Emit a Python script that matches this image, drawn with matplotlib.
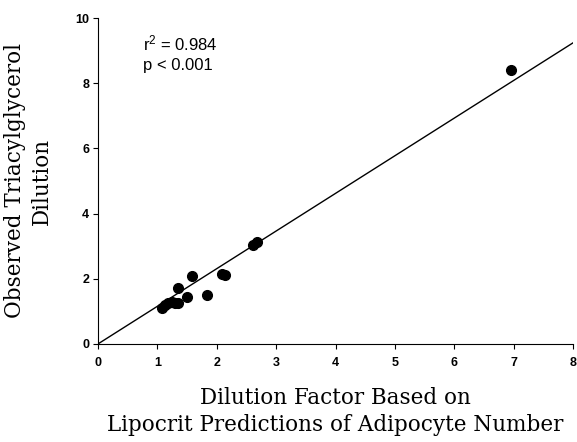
import matplotlib
matplotlib.use("Agg")
import matplotlib.pyplot as plt
import numpy as np

plt.rcParams["mathtext.fontset"] = "custom"
plt.rcParams["mathtext.rm"] = "Liberation Sans"
plt.rcParams["mathtext.it"] = "Liberation Sans"

# predicted dilution (lipocrit) vs observed triacylglycerol dilution
predicted = [1.07, 1.13, 1.18, 1.24, 1.30, 1.35, 1.34, 1.49, 1.58, 1.83, 2.08, 2.14, 2.61, 2.67, 6.95]
observed = [1.10, 1.20, 1.27, 1.30, 1.25, 1.27, 1.70, 1.44, 2.09, 1.49, 2.14, 2.10, 3.04, 3.14, 8.42]
fit_slope = 1.155
x_ticks = [0, 1, 2, 3, 4, 5, 6, 7, 8]
y_ticks = [0, 2, 4, 6, 8, 10]

fig = plt.figure(figsize=(5.77, 4.42), dpi=100)
ax = fig.add_axes([0.170, 0.222, 0.823, 0.737])

xs = np.array([0, 8])
ax.plot(xs, fit_slope * xs, color="black", lw=1.0)
ax.plot(predicted, observed, "o", color="black", markersize=7)

ax.set_xlim(0, 8)
ax.set_ylim(0, 10)
ax.set_xticks(x_ticks)
ax.set_yticks(y_ticks)
for lab in ax.get_xticklabels() + ax.get_yticklabels():
    lab.set_fontfamily("Liberation Sans")
    lab.set_fontweight("bold")
    lab.set_fontsize(9)
ax.tick_params(direction="out", length=3.5, width=0.8)
ax.tick_params(axis="x", pad=6)
ax.tick_params(axis="y", pad=3)
ax.spines["top"].set_visible(False)
ax.spines["right"].set_visible(False)

ax.set_xlabel("Dilution Factor Based on\nLipocrit Predictions of Adipocyte Number",
              family="DejaVu Serif", fontsize=15.5, linespacing=1.3)
ax.xaxis.set_label_coords(0.50, -0.132)
ax.set_ylabel("Observed Triacylglycerol\nDilution",
              family="DejaVu Serif", fontsize=15.5, linespacing=1.3)
ax.yaxis.set_label_coords(-0.095, 0.50)

ax.text(0.76, 9.02, "r$^2$ = 0.984", family="Liberation Sans", fontsize=12, va="baseline")
ax.text(0.76, 8.42, "p < 0.001", family="Liberation Sans", fontsize=12, va="baseline")

fig.savefig("out.png", dpi=100)
